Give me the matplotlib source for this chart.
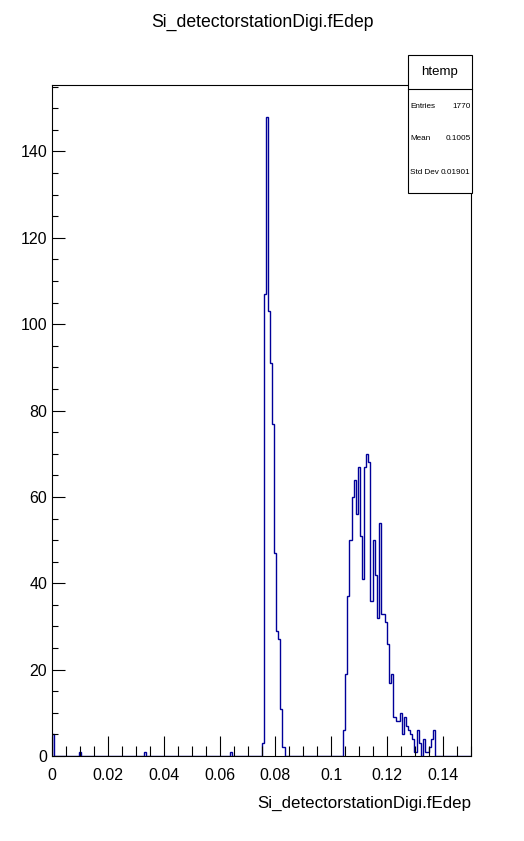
import numpy as np
import matplotlib
matplotlib.use("Agg")
import matplotlib.pyplot as plt
from matplotlib.ticker import MultipleLocator, FixedLocator, FixedFormatter


# histogram binning (ROOT htemp: 200 bins from 0 to 0.15)
n_bins = 200
x_min, x_max = 0.0, 0.15

# isolated bins near zero and in the gap
lone_bins = [0, 13, 44, 85]
lone_counts = [5, 1, 1, 1]

# first peak, starting at bin 100
peak1_start = 100
peak1_counts = [3, 107, 148, 103, 91, 77, 47, 29, 27, 11, 2]

# second peak, starting at bin 139
peak2_start = 139
peak2_counts = [6, 19, 37, 50, 60, 64, 56, 67, 51, 41,
                67, 70, 68, 36, 50, 42, 32, 54, 33, 33,
                31, 26, 17, 19, 9, 8, 8, 10, 5, 9,
                7, 6, 5, 4, 1, 6, 3, 0, 4, 1,
                1, 2, 4, 6]

x_ticks = [0, 0.02, 0.04, 0.06, 0.08, 0.1, 0.12, 0.14]
x_tick_labels = ["0", "0.02", "0.04", "0.06", "0.08", "0.1", "0.12", "0.14"]

stats_name = "htemp"
stats_rows = [("Entries", "1770"), ("Mean", "0.1005"), ("Std Dev", "0.01901")]

var_name = "Si_detectorstationDigi.fEdep"


counts = np.zeros(n_bins)
for b, c in zip(lone_bins, lone_counts):
    counts[b] = c
counts[peak1_start:peak1_start + len(peak1_counts)] = peak1_counts
counts[peak2_start:peak2_start + len(peak2_counts)] = peak2_counts
edges = np.linspace(x_min, x_max, n_bins + 1)

plt.rcParams['font.family'] = ['Liberation Sans', 'DejaVu Sans']

fig = plt.figure(figsize=(5.24, 8.41), dpi=100)
ax = fig.add_axes([52 / 524, 1 - 756 / 841, 419 / 524, 671 / 841])

ax.stairs(counts, edges, color='#000099', lw=1.0, baseline=0)

ax.set_xlim(x_min, x_max)
ax.set_ylim(0, counts.max() * 1.05)

ax.xaxis.set_major_locator(FixedLocator(x_ticks))
ax.xaxis.set_major_formatter(FixedFormatter(x_tick_labels))
ax.xaxis.set_minor_locator(MultipleLocator(0.005))
ax.yaxis.set_major_locator(MultipleLocator(20))
ax.yaxis.set_minor_locator(MultipleLocator(5))

ax.tick_params(axis='both', which='both', direction='in', top=False, right=False,
               labelsize=11.5, width=0.8, color='black')
ax.tick_params(axis='x', which='major', length=14.4, pad=9)
ax.tick_params(axis='x', which='minor', length=7.2)
ax.tick_params(axis='y', which='major', length=9, pad=3.5)
ax.tick_params(axis='y', which='minor', length=4.5)
for sp in ax.spines.values():
    sp.set_linewidth(0.8)

ax.set_xlabel(var_name, fontsize=12.2, loc='right', labelpad=9)
fig.text(0.5, 1 - 22 / 841, var_name, ha='center', va='center', fontsize=12.7)

# stats box
bx0, bx1 = 408 / 524, 472 / 524
by0, by1 = 1 - 193 / 841, 1 - 55 / 841
box = plt.Rectangle((bx0, by0), bx1 - bx0, by1 - by0, transform=fig.transFigure,
                    facecolor='white', edgecolor='black', lw=0.8, zorder=5)
fig.add_artist(box)
fig.add_artist(plt.Line2D([bx0, bx1], [1 - 89 / 841] * 2, transform=fig.transFigure,
                          color='black', lw=0.8, zorder=6))
fig.text((bx0 + bx1) / 2, 1 - 72 / 841, stats_name, ha='center', va='center',
         fontsize=9.5, zorder=7)
row_y = [106, 139, 173]
for (lab, val), yy in zip(stats_rows, row_y):
    fig.text(410 / 524, 1 - yy / 841, lab, ha='left', va='center', fontsize=5.9, zorder=7)
    fig.text(470.5 / 524, 1 - yy / 841, val, ha='right', va='center', fontsize=5.9, zorder=7)

fig.savefig("out.png", dpi=100)
